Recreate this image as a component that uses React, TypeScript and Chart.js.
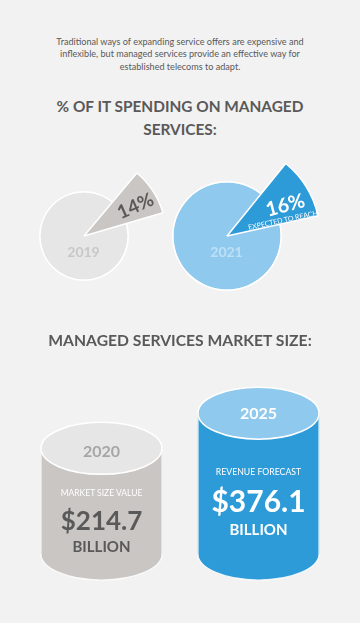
import React, { useEffect, useRef } from 'react';
import { Chart, registerables } from 'chart.js';

Chart.register(...registerables);

// ---- data ----
const shareYears = ['2019', '2021'];
const itShare = [14, 16];
const marketYears = ['2020', '2025'];
const marketSize = [214.7, 376.1];
const marketCaption = ['MARKET SIZE VALUE', 'REVENUE FORECAST'];
const marketUnit = 'BILLION';

// ---- styles ----
const BG = '#f2f2f2';
const DARK = '#595959';
const GRAY_LIGHT = '#e6e6e6';
const GRAY_MID = '#c9c6c4';
const BLUE_LIGHT = '#8fcaee';
const BLUE = '#2e9bd9';
const FONT = 'Lato, "Open Sans", sans-serif';

const noUi = {
  legend: { display: false },
  tooltip: { enabled: false },
};

type PieProps = {
  cx: number; cy: number; r: number; R: number; share: number; rotation: number;
  base: string; accent: string;
};

function SharePie({ cx, cy, r, R, share, rotation, base, accent }: PieProps) {
  const circleRef = useRef<HTMLCanvasElement>(null);
  const wedgeRef = useRef<HTMLCanvasElement>(null);
  const cs = Math.round(2 * r + 2);
  const ws = Math.round(2 * R + 2);
  useEffect(() => {
    const c1 = new Chart(circleRef.current!, {
      type: 'pie',
      data: {
        labels: ['total'],
        datasets: [
          { data: [100], backgroundColor: ['#ffffff'], borderWidth: 0, weight: 1.5 } as any,
          { data: [100], backgroundColor: [base], borderWidth: 0, weight: r - 0.5 } as any,
        ],
      },
      options: { responsive: false, animation: false, events: [], plugins: noUi as any },
    });
    const c2 = new Chart(wedgeRef.current!, {
      type: 'pie',
      data: {
        labels: ['share', 'rest'],
        datasets: [
          {
            data: [share, 100 - share],
            backgroundColor: [accent, 'rgba(0,0,0,0)'],
            borderColor: ['#ffffff', 'rgba(0,0,0,0)'],
            borderWidth: [1.5, 0],
            circumference: 240,
          } as any,
          { data: [1], weight: 0, backgroundColor: 'rgba(0,0,0,0)', borderWidth: 0 } as any,
        ],
      },
      options: { responsive: false, animation: false, events: [], rotation, plugins: noUi as any } as any,
    });
    return () => { c1.destroy(); c2.destroy(); };
  }, []);
  return (
    <>
      <canvas ref={circleRef} width={cs} height={cs}
        style={{ position: 'absolute', left: cx - cs / 2, top: cy - cs / 2, width: cs, height: cs }} />
      <canvas ref={wedgeRef} width={ws} height={ws}
        style={{ position: 'absolute', left: cx - ws / 2, top: cy - ws / 2, width: ws, height: ws }} />
    </>
  );
}

const bodyColors = [GRAY_MID, BLUE];
const topColors = [GRAY_LIGHT, BLUE_LIGHT];
const RY = 26;

const cylinderPlugin = {
  id: 'cylinders',
  afterDatasetsDraw(chart: any) {
    const ctx = chart.ctx as CanvasRenderingContext2D;
    const meta = chart.getDatasetMeta(0);
    meta.data.forEach((bar: any, i: number) => {
      const { x, y, base, width } = bar.getProps(['x', 'y', 'base', 'width'], true);
      const rx = width / 2;
      ctx.save();
      ctx.fillStyle = bodyColors[i];
      ctx.beginPath();
      ctx.ellipse(x, base, rx, RY, 0, 0, Math.PI);
      ctx.fill();
      ctx.strokeStyle = 'rgba(255,255,255,0.85)';
      ctx.lineWidth = 1.2;
      ctx.beginPath();
      ctx.moveTo(x - rx, y);
      ctx.lineTo(x - rx, base);
      ctx.ellipse(x, base, rx, RY, 0, Math.PI, 0, true);
      ctx.lineTo(x + rx, y);
      ctx.stroke();
      ctx.fillStyle = topColors[i];
      ctx.beginPath();
      ctx.ellipse(x, y, rx, RY, 0, 0, Math.PI * 2);
      ctx.fill();
      ctx.strokeStyle = '#ffffff';
      ctx.lineWidth = 1.5;
      ctx.stroke();
      ctx.restore();
    });
  },
};

function Cylinders() {
  const ref = useRef<HTMLCanvasElement>(null);
  useEffect(() => {
    const ch = new Chart(ref.current!, {
      type: 'bar',
      data: {
        labels: marketYears,
        datasets: [{
          data: marketSize,
          base: -270,
          backgroundColor: bodyColors,
          borderWidth: 0,
          barThickness: 121,
        } as any],
      },
      options: {
        responsive: false,
        animation: false,
        events: [],
        layout: { padding: { left: 23, right: 23, top: 20, bottom: 46 } },
        scales: {
          x: { display: false },
          y: { display: false, min: -270, max: 620 },
        },
        plugins: noUi as any,
      },
      plugins: [cylinderPlugin],
    });
    return () => ch.destroy();
  }, []);
  return (
    <canvas ref={ref} width={360} height={260}
      style={{ position: 'absolute', left: 0, top: 340, width: 360, height: 260 }} />
  );
}

function T({ x, y, size, color, bold, rot, children, ls }: any) {
  return (
    <div style={{
      position: 'absolute', left: x, top: y,
      transform: `translate(-50%,-50%) rotate(${rot || 0}deg)`,
      whiteSpace: 'nowrap', fontFamily: FONT, fontSize: size, lineHeight: 1,
      fontWeight: bold ? 700 : 400, color, letterSpacing: ls || 0,
    }}>{children}</div>
  );
}

export default function App() {
  return (
    <div style={{ position: 'fixed', left: 0, top: 0, width: 360, height: 623, background: BG, overflow: 'hidden' }}>
      <div style={{
        position: 'absolute', left: 0, top: 35.5, width: 360, textAlign: 'center',
        fontFamily: FONT, fontSize: 9.1, lineHeight: '12.5px', color: DARK,
      }}>
        Traditional ways of expanding service offers are expensive and<br />
        inflexible, but managed services provide an effective way for<br />
        established telecoms to adapt.
      </div>
      <div style={{
        position: 'absolute', left: 0, top: 94.5, width: 360, textAlign: 'center',
        fontFamily: FONT, fontSize: 15.4, fontWeight: 700, lineHeight: '23px', color: DARK,
      }}>
        % OF IT SPENDING ON MANAGED<br />SERVICES:
      </div>

      <SharePie cx={83.5} cy={236} r={44} R={82} share={itShare[0]} rotation={40} base={GRAY_LIGHT} accent={GRAY_MID} />
      <SharePie cx={226.5} cy={236} r={54} R={93} share={itShare[1]} rotation={39} base={BLUE_LIGHT} accent={BLUE} />

      <T x={83.5} y={252} size={14} bold color="#c8c8c8">{shareYears[0]}</T>
      <T x={135} y={205} size={19} bold color={DARK} rot={-24}>{itShare[0]}%</T>
      <T x={226.5} y={252} size={14} bold color="#bde0f6">{shareYears[1]}</T>
      <T x={285} y={204} size={20} bold color="#ffffff" rot={-15}>{itShare[1]}%</T>
      <T x={283} y={220} size={7} color="#ffffff" rot={-12}>EXPECTED TO REACH</T>

      <div style={{
        position: 'absolute', left: 0, top: 328.5, width: 360, textAlign: 'center',
        fontFamily: FONT, fontSize: 15.7, fontWeight: 700, lineHeight: '23px', color: DARK,
      }}>
        MANAGED SERVICES MARKET SIZE:
      </div>

      <Cylinders />

      <T x={101.5} y={451} size={16} bold color="#a6a6a6">{marketYears[0]}</T>
      <T x={101.5} y={493} size={8.5} color="#ffffff">{marketCaption[0]}</T>
      <T x={101.5} y={520} size={26} bold color={DARK}>${marketSize[0]}</T>
      <T x={101.5} y={546} size={15} bold color={DARK}>{marketUnit}</T>

      <T x={258.5} y={413} size={16} bold color="#ffffff">{marketYears[1]}</T>
      <T x={258.5} y={472} size={8.7} color="#ffffff">{marketCaption[1]}</T>
      <T x={258.5} y={500} size={30} bold color="#ffffff">${marketSize[1]}</T>
      <T x={258.5} y={529} size={15} bold color="#ffffff">{marketUnit}</T>
    </div>
  );
}
